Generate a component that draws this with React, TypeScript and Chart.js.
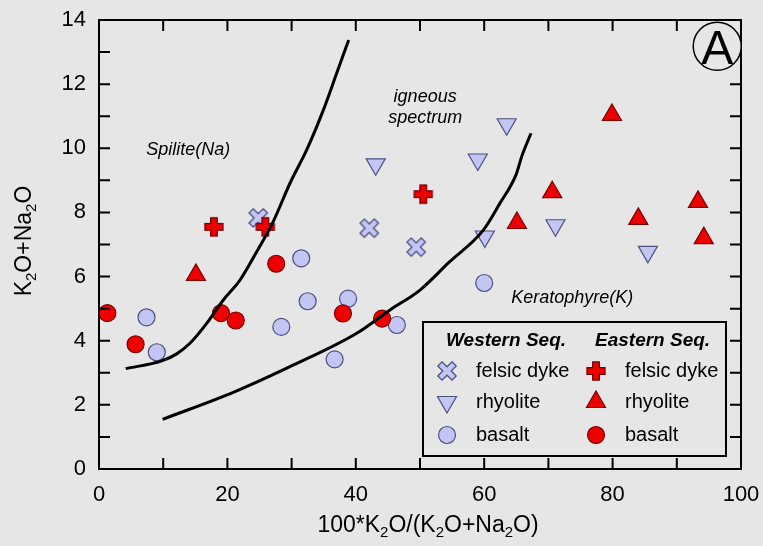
import React, { useEffect, useRef } from 'react';
import { Chart, registerables } from 'chart.js';

Chart.register(...registerables);

// ---- data (x = 100*K2O/(K2O+Na2O), y = K2O+Na2O) ----
const westernFelsicDyke: [number, number][] = [[24.8, 7.83], [42.1, 7.51], [49.4, 6.92]];
const westernRhyolite: [number, number][] = [[43.1, 9.5], [63.5, 10.75], [59.0, 9.65], [60.1, 7.25], [71.1, 7.6], [85.5, 6.77]];
const westernBasalt: [number, number][] = [[31.5, 6.57], [32.5, 5.23], [38.8, 5.31], [28.4, 4.43], [7.4, 4.73], [9.0, 3.64], [36.7, 3.42], [46.4, 4.49], [60.0, 5.8]];
const easternFelsicDyke: [number, number][] = [[17.9, 7.55], [25.9, 7.55], [50.5, 8.57]];
const easternRhyolite: [number, number][] = [[15.1, 6.05], [79.9, 11.04], [70.6, 8.63], [65.1, 7.67], [84.0, 7.8], [93.3, 8.33], [94.2, 7.2]];
const easternBasalt: [number, number][] = [[1.3, 4.86], [5.7, 3.89], [19.0, 4.86], [21.3, 4.63], [27.6, 6.4], [38.0, 4.85], [44.1, 4.69]];

const spiliteBoundary: [number, number][] = [
  [4.16, 3.13], [9.77, 3.37], [12.1, 3.59], [14.17, 3.92], [16.78, 4.54], [19.36, 5.27],
  [21.96, 5.89], [24.72, 6.83], [27.1, 7.7], [29.75, 8.91], [32.35, 9.95], [34.94, 11.19],
  [37.02, 12.34], [38.89, 13.38],
];
const keratophyreBoundary: [number, number][] = [
  [9.92, 1.55], [20.92, 2.39], [29.75, 3.19], [40.14, 4.23], [45.33, 4.96], [50.0, 5.58],
  [54.5, 6.44], [59.86, 7.45], [62.46, 8.29], [64.95, 9.17], [65.84, 9.74],
  [67.29, 10.47],
];

const xTickValues = [0, 20, 40, 60, 80, 100];
const yTickValues = [0, 2, 4, 6, 8, 10, 12, 14];
const legendRows = ['felsic dyke', 'rhyolite', 'basalt'];
const legendHeads = ['Western Seq.', 'Eastern Seq.'];

const BG = '#e6e6e6';
const LAV = '#c3c5f3';
const LAV_B = '#4f5080';
const RED = '#ee0000';
const RED_B = '#7a0000';

function makeCross(fill: string, stroke: string, rotate: boolean, a: number, b: number) {
  const c = document.createElement('canvas');
  c.width = 26;
  c.height = 26;
  const g = c.getContext('2d')!;
  g.translate(13, 13);
  if (rotate) g.rotate(Math.PI / 4);
  g.beginPath();
  g.moveTo(-a, -b); g.lineTo(a, -b); g.lineTo(a, -a); g.lineTo(b, -a); g.lineTo(b, a);
  g.lineTo(a, a); g.lineTo(a, b); g.lineTo(-a, b); g.lineTo(-a, a); g.lineTo(-b, a);
  g.lineTo(-b, -a); g.lineTo(-a, -a); g.closePath();
  g.fillStyle = fill;
  g.fill();
  g.lineWidth = 1.3;
  g.strokeStyle = stroke;
  g.stroke();
  return c;
}

const toPts = (arr: [number, number][]) => arr.map(([x, y]) => ({ x, y }));

function drawSubText(ctx: CanvasRenderingContext2D, parts: [string, boolean][], cx: number, cy: number, size: number, sub: number) {
  const fn = (s: number) => `${s}px "Liberation Sans", Arial, sans-serif`;
  let w = 0;
  for (const [t, isSub] of parts) {
    ctx.font = fn(isSub ? sub : size);
    w += ctx.measureText(t).width;
  }
  let x = cx - w / 2;
  ctx.textAlign = 'left';
  ctx.textBaseline = 'alphabetic';
  ctx.fillStyle = '#000';
  const base = cy + size * 0.36;
  for (const [t, isSub] of parts) {
    ctx.font = fn(isSub ? sub : size);
    ctx.fillText(t, x, isSub ? base + size * 0.22 : base);
    x += ctx.measureText(t).width;
  }
}

export default function App() {
  const ref = useRef<HTMLCanvasElement | null>(null);

  useEffect(() => {
    document.body.style.margin = '0';
    document.body.style.background = BG;
    const canvas = ref.current!;
    const xImg = makeCross(LAV, LAV_B, true, 3, 10);
    const plusImg = makeCross(RED, RED_B, false, 3.3, 9);

    const decor = {
      id: 'decor',
      beforeDraw(chart: any) {
        const c = chart.ctx;
        c.save();
        c.fillStyle = BG;
        c.fillRect(0, 0, chart.width, chart.height);
        c.restore();
      },
      afterDraw(chart: any) {
        const c: CanvasRenderingContext2D = chart.ctx;
        const xs = chart.scales.x;
        const ys = chart.scales.y;
        const L = xs.getPixelForValue(0), R = xs.getPixelForValue(100);
        const T = ys.getPixelForValue(14), B = ys.getPixelForValue(0);
        c.save();
        c.strokeStyle = '#000';
        c.lineWidth = 2;
        // inward ticks
        const tl = 11;
        c.beginPath();
        for (let v = 10; v < 100; v += 10) {
          const p = xs.getPixelForValue(v);
          c.moveTo(p, B); c.lineTo(p, B - tl);
          c.moveTo(p, T); c.lineTo(p, T + tl);
        }
        for (let v = 1; v < 14; v += 1) {
          const p = ys.getPixelForValue(v);
          c.moveTo(L, p); c.lineTo(L + tl, p);
          c.moveTo(R, p); c.lineTo(R - tl, p);
        }
        c.stroke();
        c.strokeRect(L, T, R - L, B - T);

        // region labels
        c.fillStyle = '#000';
        c.textAlign = 'center';
        c.textBaseline = 'middle';
        c.font = 'italic 18px "Liberation Sans", Arial, sans-serif';
        c.fillText('Spilite(Na)', xs.getPixelForValue(13.9), ys.getPixelForValue(9.95));
        c.fillText('igneous', xs.getPixelForValue(50.8), ys.getPixelForValue(11.6));
        c.fillText('spectrum', xs.getPixelForValue(50.8), ys.getPixelForValue(10.95));
        c.fillText('Keratophyre(K)', xs.getPixelForValue(73.7), ys.getPixelForValue(5.33));

        // panel letter
        const ax = xs.getPixelForValue(96.3), ay = ys.getPixelForValue(13.18);
        c.lineWidth = 1.5;
        c.beginPath();
        c.arc(ax, ay, 24, 0, Math.PI * 2);
        c.fillStyle = BG;
        c.fill();
        c.stroke();
        c.fillStyle = '#000';
        c.font = '48px "Liberation Sans", Arial, sans-serif';
        c.textBaseline = 'alphabetic';
        c.fillText('A', ax, ay + 18);

        // legend box
        const bx = 423, by = 322, bw = 303, bh = 134;
        c.fillStyle = BG;
        c.fillRect(bx, by, bw, bh);
        c.lineWidth = 2;
        c.strokeRect(bx, by, bw, bh);
        c.fillStyle = '#000';
        c.textAlign = 'left';
        c.textBaseline = 'middle';
        c.font = 'bold italic 19px "Liberation Sans", Arial, sans-serif';
        c.fillText(legendHeads[0], bx + 23, by + 19);
        c.fillText(legendHeads[1], bx + 172, by + 19);
        const rowsY = [by + 49, by + 80, by + 113];
        const cols = [bx + 24, bx + 173];
        c.font = '20px "Liberation Sans", Arial, sans-serif';
        for (let col = 0; col < 2; col++) {
          const fill = col === 0 ? LAV : RED;
          const stroke = col === 0 ? LAV_B : RED_B;
          for (let r = 0; r < 3; r++) {
            const mx = cols[col], my = rowsY[r];
            c.lineWidth = 1.2;
            c.fillStyle = fill;
            c.strokeStyle = stroke;
            if (r === 0) {
              const img = col === 0 ? xImg : plusImg;
              c.drawImage(img, mx - 13, my - 13);
            } else if (r === 1) {
              const rad = 11;
              const dir = col === 0 ? -1 : 1;
              c.beginPath();
              c.moveTo(mx, my - dir * rad);
              c.lineTo(mx + rad * Math.sin(2 * Math.PI / 3), my + dir * rad / 2);
              c.lineTo(mx - rad * Math.sin(2 * Math.PI / 3), my + dir * rad / 2);
              c.closePath();
              c.fill();
              c.stroke();
            } else {
              c.beginPath();
              c.arc(mx, my, 8.5, 0, Math.PI * 2);
              c.fill();
              c.stroke();
            }
            c.fillStyle = '#000';
            c.fillText(legendRows[r], mx + 29, my);
          }
        }

        // axis titles
        drawSubText(c, [['100*K', false], ['2', true], ['O/(K', false], ['2', true], ['O+Na', false], ['2', true], ['O)', false]], 428, 524, 23, 15);
        c.save();
        c.translate(23, 241);
        c.rotate(-Math.PI / 2);
        drawSubText(c, [['K', false], ['2', true], ['O+Na', false], ['2', true], ['O', false]], 0, 0, 23, 15);
        c.restore();
        c.restore();
      },
    };

    const curve = (data: [number, number][]) => ({
      data: toPts(data),
      showLine: true,
      borderColor: '#000',
      borderWidth: 3,
      pointRadius: 0,
      fill: false,
      cubicInterpolationMode: 'monotone',
    });
    const pts = (data: [number, number][], style: any, fill: string, stroke: string, radius: number, rotation = 0) => ({
      data: toPts(data),
      pointStyle: style,
      pointRadius: radius,
      pointRotation: rotation,
      backgroundColor: fill,
      borderColor: stroke,
      borderWidth: 1.2,
      showLine: false,
    });

    const chart = new Chart(canvas, {
      type: 'scatter',
      data: {
        datasets: [
          curve(spiliteBoundary),
          curve(keratophyreBoundary),
          pts(easternFelsicDyke, plusImg, RED, RED_B, 10),
          pts(easternRhyolite, 'triangle', RED, RED_B, 11),
          pts(easternBasalt, 'circle', RED, RED_B, 8.5),
          pts(westernFelsicDyke, xImg, LAV, LAV_B, 10),
          pts(westernRhyolite, 'triangle', LAV, LAV_B, 11, 180),
          pts(westernBasalt, 'circle', LAV, LAV_B, 8.5),
        ] as any,
      },
      options: {
        responsive: false,
        animation: false,
        layout: { padding: { top: 20, right: 22, left: 0, bottom: 0 } },
        plugins: { legend: { display: false }, tooltip: { enabled: false } },
        scales: {
          x: {
            type: 'linear',
            min: 0,
            max: 100,
            grid: { display: false, drawTicks: false },
            border: { display: false },
            afterFit: (s: any) => { s.height = 77; s.paddingLeft = 0; s.paddingRight = 0; },
            afterBuildTicks: (s: any) => { s.ticks = xTickValues.map((v) => ({ value: v })); },
            ticks: { color: '#000', padding: 13, font: { size: 22, family: '"Liberation Sans", Arial, sans-serif' }, maxRotation: 0 },
          },
          y: {
            type: 'linear',
            min: 0,
            max: 14,
            grid: { display: false, drawTicks: false },
            border: { display: false },
            afterFit: (s: any) => { s.width = 99; s.paddingTop = 0; s.paddingBottom = 0; },
            afterBuildTicks: (s: any) => { s.ticks = yTickValues.map((v) => ({ value: v })); },
            ticks: { color: '#000', padding: 13, font: { size: 22, family: '"Liberation Sans", Arial, sans-serif' } },
          },
        },
      },
      plugins: [decor],
    });
    return () => chart.destroy();
  }, []);

  return <canvas ref={ref} width={763} height={546} style={{ display: 'block' }} />;
}
